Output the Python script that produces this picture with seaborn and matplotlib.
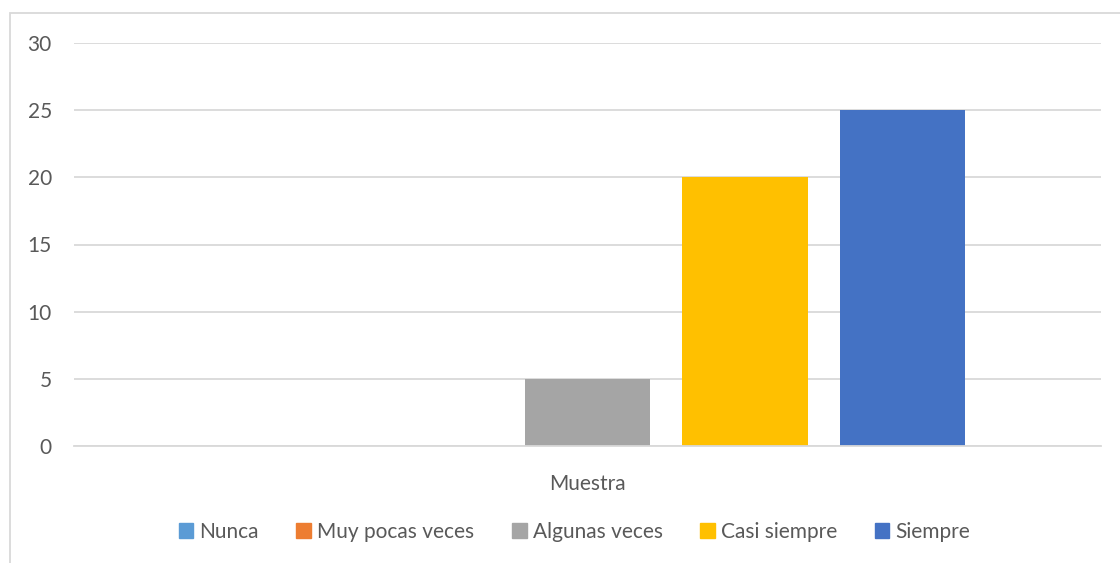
import pandas as pd
import matplotlib.pyplot as plt
import matplotlib.patches as mpatches
import seaborn as sns

# data
categoria = ["Muestra"]
series = ["Nunca", "Muy pocas veces", "Algunas veces", "Casi siempre", "Siempre"]
valores = [0, 0, 5, 20, 25]
colores = ["#5B9BD5", "#ED7D31", "#A5A5A5", "#FFC000", "#4472C4"]

df = pd.DataFrame({"grupo": categoria * len(series),
                   "serie": series,
                   "valor": valores})

sns.set_theme(style="white")
plt.rcParams['font.family'] = ['Lato', 'DejaVu Sans']

fig = plt.figure(figsize=(11.2, 5.63), dpi=100)
ax = fig.add_axes([74 / 1120, 1 - 446 / 563, (1101 - 74) / 1120, (446 - 43) / 563])

sns.barplot(data=df, x="grupo", y="valor", hue="serie", hue_order=series,
            palette=dict(zip(series, colores)), width=0.767, gap=0.206,
            saturation=1, linewidth=0, ax=ax, legend=False)

ax.set_xlim(-0.5, 0.5)
ax.set_ylim(0, 30)
ax.set_yticks([0, 5, 10, 15, 20, 25, 30])
ax.yaxis.grid(True, color="#D9D9D9", linewidth=1.3)
ax.set_axisbelow(True)
for s in ["top", "right", "left"]:
    ax.spines[s].set_visible(False)
ax.spines["bottom"].set_color("#D9D9D9")
ax.spines["bottom"].set_linewidth(1.3)
ax.tick_params(axis="both", length=0, labelsize=15, colors="#595959")
ax.tick_params(axis="y", pad=16)
ax.tick_params(axis="x", pad=20)
ax.set_xlabel("")
ax.set_ylabel("")

# legend at the bottom
handles = [mpatches.Patch(color=c, label=s) for s, c in zip(series, colores)]
fig.legend(handles=handles, loc="center", bbox_to_anchor=(0.513, 1 - 532 / 563),
           ncol=5, frameon=False, fontsize=15, handlelength=0.7,
           handleheight=0.7, handletextpad=0.3, columnspacing=1.8,
           labelcolor="#595959")

# chart area border
border = mpatches.Rectangle((10 / 1120, -0.1), 1.2, 1 - 13 / 563 + 0.1,
                            transform=fig.transFigure, fill=False,
                            edgecolor="#D9D9D9", linewidth=1.3)
fig.patches.append(border)

plt.savefig("out.png", dpi=100)
